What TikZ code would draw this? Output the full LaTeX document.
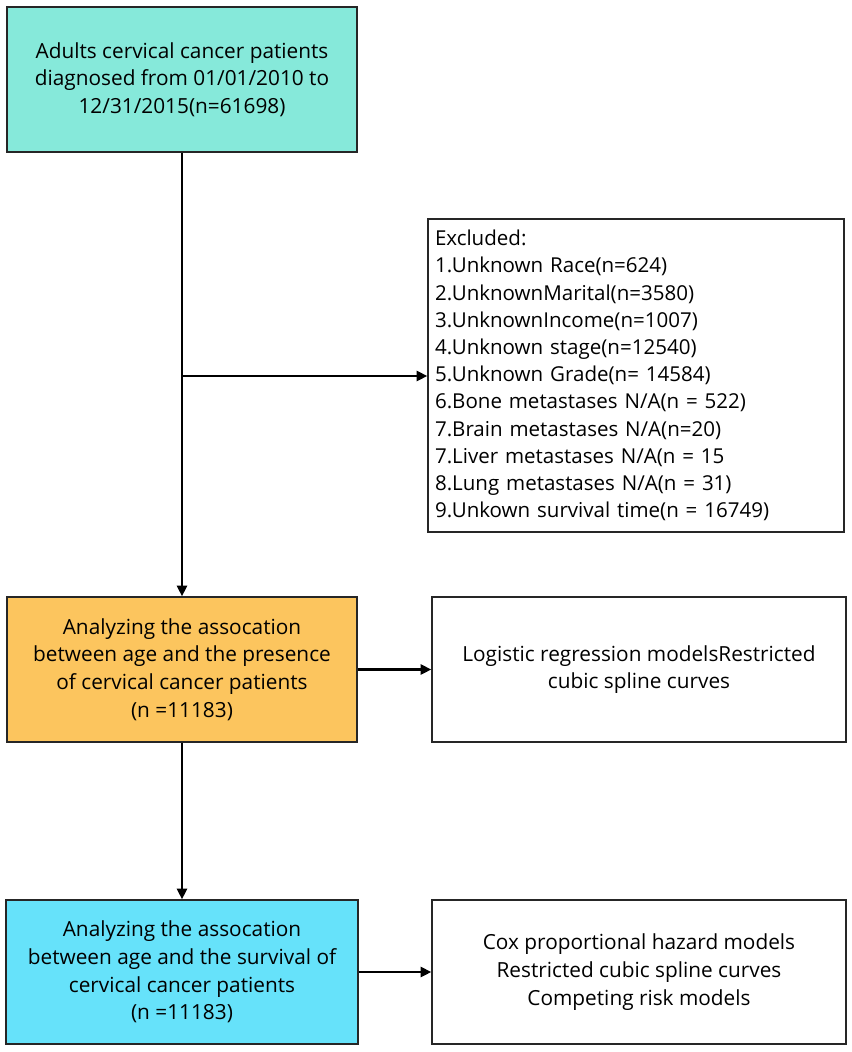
\documentclass[tikz,border=0pt]{standalone}
\usepackage{fontspec}
\setmainfont{Open Sans}
\usetikzlibrary{arrows.meta}
\definecolor{teal1}{HTML}{86E9DA}
\definecolor{orange1}{HTML}{FCC55E}
\definecolor{blue1}{HTML}{66E2FA}
\begin{document}
\begin{tikzpicture}[x=0.75pt,y=-0.75pt,
  box/.style={draw=black!85, line width=1pt, inner sep=0pt, align=center,
    font=\fontsize{15.6}{20.8}\selectfont},
  conn/.style={line width=1.8pt, -{Triangle[length=8pt,width=7.5pt]}},
  line/.style={line width=1.8pt}]
\useasboundingbox (0,0) rectangle (851,1052);
\node[box, fill=teal1, minimum width=350*0.75pt, minimum height=145*0.75pt] (top) at (182,79.5)
  {Adults cervical cancer patients\\diagnosed from 01/01/2010 to\\12/31/2015(n=61698)};
\node[box, fill=white, minimum width=416*0.75pt, minimum height=313*0.75pt,
  align=left, text width=402*0.75pt, font=\fontsize{15.4}{20.4}\selectfont] (excl) at (636,375.5)
  {Excluded:\\1.Unknown Race(n=624)\\2.UnknownMarital(n=3580)\\3.UnknownIncome(n=1007)\\4.Unknown stage(n=12540)\\5.Unknown Grade(n= 14584)\\6.Bone metastases N/A(n = 522)\\7.Brain metastases N/A(n=20)\\7.Liver metastases N/A(n = 15\\8.Lung metastases N/A(n = 31)\\9.Unkown survival time(n = 16749)};
\node[box, fill=orange1, minimum width=350*0.75pt, minimum height=145*0.75pt] (age) at (182,669.5)
  {Analyzing the assocation\\between age and the presence\\of cervical cancer patients\\(n =11183)};
\node[box, fill=white, minimum width=414*0.75pt, minimum height=145*0.75pt] (log) at (639,669.5)
  {Logistic regression modelsRestricted\\cubic spline curves};
\node[box, fill=blue1, minimum width=352*0.75pt, minimum height=144*0.75pt] (surv) at (182,972)
  {Analyzing the assocation\\between age and the survival of\\cervical cancer patients\\(n =11183)};
\node[box, fill=white, minimum width=414*0.75pt, minimum height=144*0.75pt] (cox) at (639,972)
  {Cox proportional hazard models\\Restricted cubic spline curves\\Competing risk models};
\coordinate (br) at (182,376);
\draw[conn] (top.south) -- (age.north);
\draw[conn] (br) -- (excl.west |- br);
\draw[conn] (age.south) -- (surv.north);
\draw[conn] (age.east) -- (log.west);
\draw[conn] (surv.east) -- (cox.west);
\end{tikzpicture}
\end{document}
